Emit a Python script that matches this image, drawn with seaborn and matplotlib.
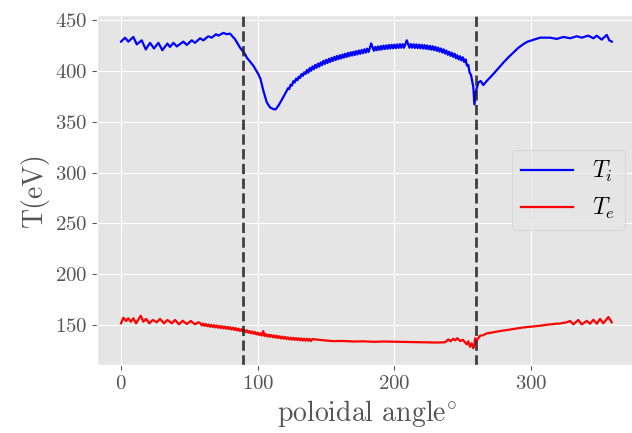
import matplotlib
matplotlib.use("Agg")
import matplotlib.pyplot as plt
import seaborn as sns
import pandas as pd

# ---- data ----
ti_angle = [0, 2.9, 5.3, 9.0, 11.5, 15.1, 18.1, 21.2, 24.1, 27.3, 30.2, 33.9, 35.8, 38.3, 40.8,
            45.6, 48.1, 51.7, 54.1, 57.8, 60.2, 63.9, 66.3, 69.5, 71.2, 74.8, 77.3, 79.7, 83.4,
            87.0, 90.7, 92.0, 96.8, 100.4, 102, 104.1, 106.6, 109, 111.4, 113, 115.1, 118, 121.2,
            122, 123, 124, 125, 126, 127, 128, 129, 130, 131, 132, 133, 134, 135, 136, 137, 138,
            139, 140, 141, 142, 143, 144, 145, 146, 147, 148, 149, 150, 151, 152, 153, 154, 155,
            156, 157, 158, 159, 160, 161, 162, 163, 164, 165, 166, 167, 168, 169, 170, 171, 172,
            173, 174, 175, 176, 177, 178, 179, 180, 181, 182, 183, 184, 185, 186, 187, 188, 189,
            190, 191, 192, 193, 194, 195, 196, 197, 198, 199, 200, 201, 202, 203, 204, 205, 206,
            207, 208, 209, 210, 211, 212, 213, 214, 215, 216, 217, 218, 219, 220, 221, 222, 223,
            224, 225, 226, 227, 228, 229, 230, 231, 232, 233, 234, 235, 236, 237, 238, 239, 240,
            241, 242, 243, 244, 245, 246, 247, 248, 249, 250, 251, 252, 253, 254, 255, 256,
            257.7, 258.5, 259.7, 261.4, 263.1, 265, 267.5, 270, 272.3, 276, 279.7, 283,
            287, 290.5, 294.3, 297, 300.4, 306.5, 313.8, 318.7, 323.6, 328.5, 333.4, 337, 341.8,
            345.5, 348, 351.6, 355.3, 357.2, 359]
ti_value = [428.7, 432.6, 428.7, 433.3, 426, 430, 421, 427.5, 422, 427.5, 420.3, 426.8, 423.5,
            427.5, 424, 428.7, 425.5, 430, 427.5, 432, 430, 434, 432.6, 436, 434.6, 437.3, 436,
            436.6, 431, 422.9, 416.4, 413, 405, 396.8, 392, 380.4, 369, 364, 362.4, 362, 365.7,
            372.5, 380.4,
            382.8, 382.0, 386.3, 385.5, 389.8, 388.5, 392.3, 390.7, 394.3, 393.0, 396.8, 395.1,
            398.6, 396.9, 400.8, 398.2, 402.8, 400.0, 404.3, 401.5, 405.8, 402.9, 407.1, 404.1,
            408.3, 405.5, 409.8, 406.7, 410.8, 407.7, 411.8, 408.7, 412.8, 409.7, 413.8, 410.6,
            414.6, 411.4, 415.3, 412.1, 416.1, 412.9, 416.8, 413.6, 417.6, 414.4, 418.3, 415.0,
            418.8, 415.5, 419.4, 416.1, 420.0, 416.7, 420.6, 417.3, 421.2, 417.9, 421.8, 418.5,
            422.4, 427.0, 423.0, 419.7, 423.5, 420.2, 424.0, 420.6, 424.4, 421.0, 424.8, 421.4,
            425.1, 421.7, 425.4, 421.9, 425.6, 422.1, 425.8, 422.3, 426.0, 422.5, 426.2, 422.7,
            426.3, 422.7, 426.3, 430.0, 426.3, 422.7, 426.3, 422.7, 426.2, 422.5, 426.0, 422.3,
            425.8, 422.1, 425.6, 421.9, 425.3, 421.6, 425.0, 421.2, 424.6, 420.8, 424.2, 420.3,
            423.6, 419.6, 422.8, 418.8, 422.0, 418.0, 421.1, 417.0, 420.0, 415.8, 418.8, 414.7,
            417.8, 413.7, 416.8, 412.4, 415.3, 411.2, 414.3, 410.2, 413.3, 408.7, 411.3, 405.2,
            405.8, 398.2, 396,
            384, 367, 380.4, 388.5, 390, 386, 390, 393.5, 396.8, 402.5, 408.1, 412.8, 418, 422.5,
            426.2, 428.5, 430, 432.6, 432.6, 431.4, 433.3, 432, 434, 432.6, 434.6, 432, 434.6,
            430.7, 435.3, 430, 428.7]

te_angle = [0, 1.7, 3.7, 5.3, 7.1, 9, 11, 14.4, 16.3, 18.3, 20.7, 23.2, 26.1, 28.5, 31.5, 33.9,
            37.1, 39.5, 42.4, 45.1, 48.1, 51, 54.1, 56.5,
            58, 59, 60, 61, 62, 63, 64, 65, 66, 67, 68, 69, 70, 71, 72, 73, 74, 75, 76, 77, 78,
            79, 80, 81, 82, 83, 84, 85, 86, 87, 88, 89, 90, 91, 92, 93, 94, 95, 96, 97, 98, 99,
            100, 101, 102, 103, 104, 105, 106, 107, 108, 109, 110, 111, 112, 113, 114, 115, 116,
            117, 118, 119, 120, 121, 122, 123, 124, 125, 126, 127, 128, 129, 130, 131, 132, 133,
            134, 135, 136, 137, 138, 139, 140,
            148, 155, 162.6, 170, 177.3,
            185, 192, 199.2, 210, 223.6, 230, 237, 239.4, 241, 243, 244.3, 246, 248, 250, 251.6,
            253, 254, 255.3, 256.5, 257.7, 258.5, 259, 260, 262.6, 265, 267.5, 272, 277.2, 282,
            287, 292, 296.8, 301, 306.5, 311, 316.2, 321, 326, 328.5, 330.9, 334.5, 337, 340.7,
            343.1, 345.5, 348, 350.4, 352.8, 356.5, 359]
te_value = [151.7, 157.2, 154, 156.6, 153.3, 156.6, 151.7, 159.2, 153.3, 156, 151.7, 155, 152.7,
            156, 151.7, 155, 151.7, 155, 150.7, 154.2, 151, 154, 150.7, 152.7,
            151.9, 149.7, 151.4, 149.2, 151.0, 148.9, 150.5, 148.3, 150.2, 148.0, 149.9, 147.7,
            149.5, 147.3, 149.2, 147.0, 148.9, 146.7, 148.5, 146.4, 148.2, 146.0, 147.8, 145.6,
            147.4, 145.2, 147.0, 144.6, 146.4, 144.1, 145.9, 143.7, 145.4, 143.1, 144.8, 142.5,
            144.1, 141.9, 143.6, 141.4, 143.0, 140.8, 142.5, 140.2, 141.9, 139.7, 144.0, 139.2,
            141.0, 138.8, 140.6, 138.4, 140.2, 138.0, 139.8, 137.6, 139.4, 137.2, 139.0, 136.8,
            138.6, 136.5, 138.3, 136.1, 137.9, 135.8, 137.6, 135.6, 137.4, 135.4, 137.2, 135.2,
            137.0, 135.0, 136.8, 134.8, 136.6, 134.6, 136.5, 134.5, 136.3, 134.3, 136.2,
            135, 134.2, 134.3, 133.8, 134,
            133.5, 133.8, 133.6, 133.3, 133, 132.8, 133, 135.9, 134, 136.5, 135, 137, 134.3,
            135.5, 133, 131, 134, 128.7, 132, 127.1, 131, 136.9, 134.5, 139.5, 140, 141.8, 142.8,
            144.1, 145, 146.1, 147.2, 148, 148.5, 149.3, 150.2, 151, 151.5, 152.7, 154, 150.7,
            155, 150.7, 154, 151.3, 155.2, 151.3, 156, 151.7, 157.9, 152.7]

separatrix_angles = [89, 260]

series_labels = [r"$T_i$", r"$T_e$"]
x_label = r"poloidal angle$^{\circ}$"
y_label = "T(eV)"
x_ticks = [0, 100, 200, 300]
y_ticks = [150, 200, 250, 300, 350, 400, 450]

# ---- plotting ----
plt.style.use("ggplot")
plt.rcParams.update({
    "font.family": "serif",
    "font.serif": ["cmr10", "DejaVu Serif"],
    "mathtext.fontset": "cm",
    "axes.formatter.use_mathtext": True,
    "axes.unicode_minus": False,
})

fig = plt.figure(figsize=(6.32, 4.33), dpi=100)
ax = fig.add_axes([97 / 632, 1 - 365 / 433, (636.4 - 97) / 632, (365 - 15) / 433])

df_ti = pd.DataFrame({"angle": ti_angle, "T": ti_value})
df_te = pd.DataFrame({"angle": te_angle, "T": te_value})

sns.lineplot(data=df_ti, x="angle", y="T", color="#0000FF", lw=1.6, label=series_labels[0],
             estimator=None, sort=False, ax=ax)
sns.lineplot(data=df_te, x="angle", y="T", color="#FF0000", lw=1.6, label=series_labels[1],
             estimator=None, sort=False, ax=ax)

for a in separatrix_angles:
    ax.axvline(a, color="#222222", ls="--", lw=2.0, alpha=0.85)

ax.set_xlim(-17.6, 377.0)
ax.set_ylim(110.7, 454.9)
ax.set_xticks(x_ticks)
ax.set_yticks(y_ticks)
ax.tick_params(labelsize=15, colors="#555555")
ax.set_xlabel(x_label, fontsize=20, color="#555555")
ax.set_ylabel(y_label, fontsize=20, color="#555555")

leg = ax.legend(loc="center right", fontsize=17, handlelength=2.2)

fig.savefig("out.png", dpi=100)
